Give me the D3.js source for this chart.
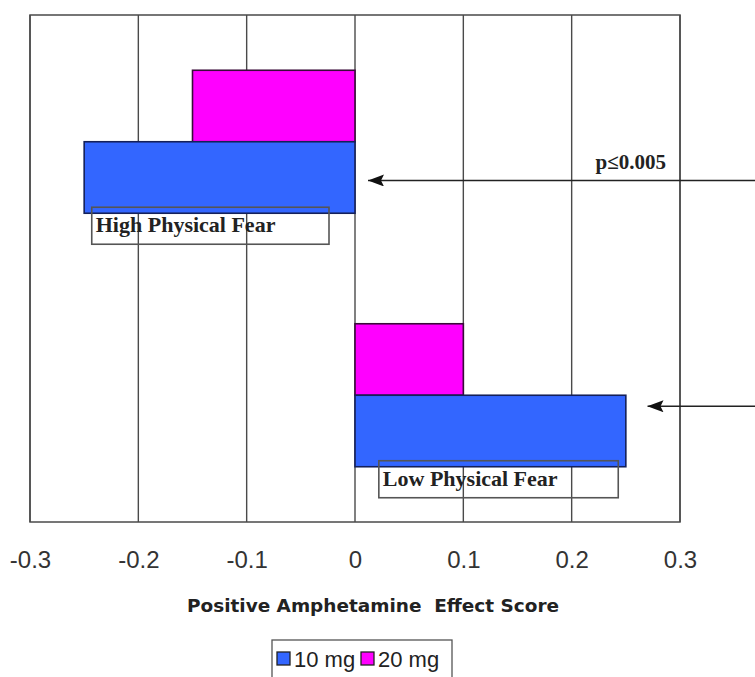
<!DOCTYPE html>
<html>
<head>
<meta charset="utf-8">
<script src="https://cdn.jsdelivr.net/npm/d3@7"></script>
<style>
  html, body { margin: 0; padding: 0; background: #ffffff; }
  svg { display: block; }
</style>
</head>
<body>
<svg id="chart" width="755" height="677"></svg>
<script>
// ---- data ----
const categories = ["High Physical Fear", "Low Physical Fear"];
const seriesNames = ["20 mg", "10 mg"];           // top-to-bottom within each group
const legendOrder = ["10 mg", "20 mg"];
const values10mg = [-0.25, 0.25];
const values20mg = [-0.15, 0.10];
const tickValues = [-0.3, -0.2, -0.1, 0, 0.1, 0.2, 0.3];
const tickLabels = ["-0.3", "-0.2", "-0.1", "0", "0.1", "0.2", "0.3"];
const xTitle = "Positive Amphetamine  Effect Score";
const pValueText = "p\u22640.005";
// label boxes in value units
const labelBoxX0 = [-0.243, 0.022];
const labelBoxX1 = [-0.024, 0.243];
// arrow tips in value units
const arrowTipValues = [0.012, 0.27];

const colors = { "10 mg": "#3366FF", "20 mg": "#FF00FF" };
const strokes = { "10 mg": "#14205a", "20 mg": "#3a0a3a" };

const svg = d3.select("#chart");
const W = 755, H = 677;
const plot = { left: 30, right: 680, top: 15, bottom: 522 };

const x = d3.scaleLinear().domain([-0.3, 0.3]).range([plot.left, plot.right]);
const y = d3.scaleBand().domain(categories).range([plot.top, plot.bottom]).padding(0);
const y1 = d3.scaleBand().domain(seriesNames).range([0, y.bandwidth()]).paddingInner(0).paddingOuter(0.773);

const rows = categories.map((c, i) => ({
  cat: c,
  vals: { "10 mg": values10mg[i], "20 mg": values20mg[i] }
}));

// gridlines
const gridColor = "#4a4a4a";
svg.append("g").selectAll("line").data(tickValues).join("line")
  .attr("x1", d => x(d)).attr("x2", d => x(d))
  .attr("y1", plot.top).attr("y2", plot.bottom)
  .attr("stroke", gridColor).attr("stroke-width", 1.4);

// plot border
svg.append("rect")
  .attr("x", plot.left).attr("y", plot.top)
  .attr("width", plot.right - plot.left).attr("height", plot.bottom - plot.top)
  .attr("fill", "none").attr("stroke", gridColor).attr("stroke-width", 1.5);

// bars
const g = svg.append("g");
rows.forEach(r => {
  seriesNames.forEach(s => {
    const v = r.vals[s];
    g.append("rect")
      .attr("x", Math.min(x(0), x(v)))
      .attr("y", y(r.cat) + y1(s))
      .attr("width", Math.abs(x(v) - x(0)))
      .attr("height", y1.bandwidth())
      .attr("fill", colors[s])
      .attr("stroke", strokes[s])
      .attr("stroke-width", 1.6);
  });
});

// category label boxes
rows.forEach((r, i) => {
  const barBottom = y(r.cat) + y1("10 mg") + y1.bandwidth();
  const bx0 = x(labelBoxX0[i]), bx1 = x(labelBoxX1[i]);
  const by0 = barBottom - 6, bh = 37;
  svg.append("rect")
    .attr("x", bx0).attr("y", by0).attr("width", bx1 - bx0).attr("height", bh)
    .attr("fill", "none").attr("stroke", "#555").attr("stroke-width", 1.6);
  svg.append("text")
    .attr("x", bx0 + 4).attr("y", by0 + 25)
    .attr("font-family", "'Liberation Serif', 'Times New Roman', serif")
    .attr("font-weight", "bold").attr("font-size", 22)
    .attr("fill", "#222")
    .text(r.cat);
});

// arrows
const defs = svg.append("defs");
defs.append("marker").attr("id", "ah")
  .attr("viewBox", "0 0 16 12").attr("refX", 0).attr("refY", 6)
  .attr("markerWidth", 16).attr("markerHeight", 12)
  .attr("markerUnits", "userSpaceOnUse").attr("orient", "auto")
  .append("path").attr("d", "M0,6 L16,0 L13,6 L16,12 Z").attr("fill", "#111");

const arrowY = [
  y(categories[0]) + y1("10 mg") + y1.bandwidth() / 2 + 3,
  y(categories[1]) + y1("10 mg") + 11
];
arrowTipValues.forEach((v, i) => {
  svg.append("line")
    .attr("x1", x(v)).attr("x2", W + 5)
    .attr("y1", arrowY[i]).attr("y2", arrowY[i])
    .attr("stroke", "#222").attr("stroke-width", 1.7)
    .attr("marker-start", "url(#ah)");
});

// p-value text
svg.append("text")
  .attr("x", (x(0.2) + x(0.3)) / 2 + 5).attr("y", arrowY[0] - 11)
  .attr("text-anchor", "middle")
  .attr("font-family", "'Liberation Serif', 'Times New Roman', serif")
  .attr("font-weight", "bold").attr("font-size", 21)
  .attr("fill", "#222")
  .text(pValueText);

// x axis tick labels
const xAxis = d3.axisBottom(x).tickValues(tickValues)
  .tickFormat((d, i) => tickLabels[i]).tickSize(0).tickPadding(0);
const ax = svg.append("g").attr("transform", `translate(0, ${plot.bottom})`).call(xAxis);
ax.select(".domain").remove();
ax.selectAll("text")
  .attr("y", 46).attr("dy", null)
  .attr("font-family", "'Liberation Sans', Arial, sans-serif")
  .attr("font-size", 24).attr("fill", "#333");

// x title
svg.append("text")
  .attr("x", 373).attr("y", 612)
  .attr("text-anchor", "middle")
  .attr("font-family", "'DejaVu Sans', Verdana, sans-serif")
  .attr("font-weight", "bold").attr("font-size", 18)
  .attr("fill", "#222")
  .attr("textLength", 372).attr("lengthAdjust", "spacingAndGlyphs")
  .style("white-space", "pre")
  .text(xTitle);

// legend
const lg = svg.append("g");
const legX = 272, legY = 640, legW = 180, legH = 40;
lg.append("rect").attr("x", legX).attr("y", legY).attr("width", legW).attr("height", legH)
  .attr("fill", "#fff").attr("stroke", "#555").attr("stroke-width", 1.3);
const entryX = [legX + 5, legX + 89];
legendOrder.forEach((s, i) => {
  lg.append("rect").attr("x", entryX[i]).attr("y", legY + 12).attr("width", 13).attr("height", 13)
    .attr("fill", colors[s]).attr("stroke", "#222").attr("stroke-width", 1.3);
  lg.append("text").attr("x", entryX[i] + 17).attr("y", legY + 27)
    .attr("font-family", "'Liberation Sans', Arial, sans-serif")
    .attr("font-size", 22).attr("fill", "#222")
    .text(s);
});
</script>
</body>
</html>
